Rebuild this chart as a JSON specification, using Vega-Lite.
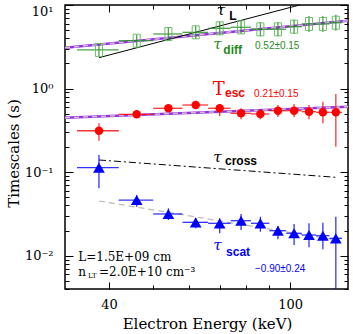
{
  "$schema": "https://vega.github.io/schema/vega-lite/v6.json",
  "width": 283,
  "height": 284,
  "autosize": "none",
  "padding": {"left": 65, "top": 5, "right": 5, "bottom": 45},
  "config": {
    "view": {"stroke": "black", "strokeWidth": 1.5},
    "axis": {"domain": false, "grid": false, "tickColor": "black", "labelColor": "black", "titleColor": "black", "labelOverlap": false, "labelFlush": false, "tickWidth": 1,
      "labelFont": "DejaVu Serif", "labelFontSize": 13, "titleFont": "DejaVu Serif", "titleFontSize": 15, "titleFontWeight": "normal"}
  },
  "datasets": {
    "pts": [
      {"s": "diff", "E": 38, "lo": 34, "hi": 42, "t": 2.90, "tlo": 2.45, "thi": 3.42},
      {"s": "diff", "E": 46, "lo": 42, "hi": 50, "t": 3.74, "tlo": 3.17, "thi": 4.41},
      {"s": "diff", "E": 54, "lo": 50, "hi": 58, "t": 4.50, "tlo": 3.81, "thi": 5.31},
      {"s": "diff", "E": 62, "lo": 58, "hi": 66, "t": 4.71, "tlo": 3.93, "thi": 5.65},
      {"s": "diff", "E": 70, "lo": 66, "hi": 74, "t": 5.26, "tlo": 4.38, "thi": 6.31},
      {"s": "diff", "E": 78, "lo": 74, "hi": 82, "t": 5.41, "tlo": 4.51, "thi": 6.49},
      {"s": "diff", "E": 86, "lo": 82, "hi": 90, "t": 5.12, "tlo": 4.22, "thi": 6.21},
      {"s": "diff", "E": 94, "lo": 90, "hi": 98, "t": 5.12, "tlo": 4.22, "thi": 6.21},
      {"s": "diff", "E": 102, "lo": 98, "hi": 106, "t": 5.50, "tlo": 4.53, "thi": 6.67},
      {"s": "diff", "E": 110, "lo": 106, "hi": 114, "t": 5.93, "tlo": 4.76, "thi": 7.39},
      {"s": "diff", "E": 118, "lo": 114, "hi": 122, "t": 5.93, "tlo": 4.76, "thi": 7.39},
      {"s": "diff", "E": 126, "lo": 122, "hi": 130, "t": 6.14, "tlo": 4.92, "thi": 7.66},
      {"s": "esc", "E": 38, "lo": 34, "hi": 42, "t": 0.313, "tlo": 0.238, "thi": 0.385},
      {"s": "esc", "E": 46, "lo": 42, "hi": 50, "t": 0.492, "tlo": 0.46, "thi": 0.525},
      {"s": "esc", "E": 54, "lo": 50, "hi": 58, "t": 0.581, "tlo": 0.545, "thi": 0.62},
      {"s": "esc", "E": 62, "lo": 58, "hi": 66, "t": 0.636, "tlo": 0.60, "thi": 0.675},
      {"s": "esc", "E": 70, "lo": 66, "hi": 74, "t": 0.581, "tlo": 0.47, "thi": 0.654},
      {"s": "esc", "E": 78, "lo": 74, "hi": 82, "t": 0.506, "tlo": 0.429, "thi": 0.581},
      {"s": "esc", "E": 86, "lo": 82, "hi": 90, "t": 0.497, "tlo": 0.429, "thi": 0.565},
      {"s": "esc", "E": 94, "lo": 90, "hi": 98, "t": 0.544, "tlo": 0.457, "thi": 0.636},
      {"s": "esc", "E": 102, "lo": 98, "hi": 106, "t": 0.544, "tlo": 0.453, "thi": 0.654},
      {"s": "esc", "E": 110, "lo": 106, "hi": 114, "t": 0.529, "tlo": 0.429, "thi": 0.636},
      {"s": "esc", "E": 118, "lo": 114, "hi": 122, "t": 0.520, "tlo": 0.384, "thi": 0.697},
      {"s": "esc", "E": 126, "lo": 122, "hi": 130, "t": 0.520, "tlo": 0.2016, "thi": 0.861},
      {"s": "scat", "E": 38, "lo": 34, "hi": 42, "t": 0.1131, "tlo": 0.0641, "thi": 0.1604},
      {"s": "scat", "E": 46, "lo": 42, "hi": 50, "t": 0.0464, "tlo": 0.0386, "thi": 0.0533},
      {"s": "scat", "E": 54, "lo": 50, "hi": 58, "t": 0.0316, "tlo": 0.0268, "thi": 0.0369},
      {"s": "scat", "E": 62, "lo": 58, "hi": 66, "t": 0.0251, "tlo": 0.0213, "thi": 0.02805},
      {"s": "scat", "E": 70, "lo": 66, "hi": 74, "t": 0.02443, "tlo": 0.01856, "thi": 0.02805},
      {"s": "scat", "E": 78, "lo": 74, "hi": 82, "t": 0.02625, "tlo": 0.0203, "thi": 0.0316},
      {"s": "scat", "E": 86, "lo": 82, "hi": 90, "t": 0.02443, "tlo": 0.0194, "thi": 0.0293},
      {"s": "scat", "E": 94, "lo": 90, "hi": 98, "t": 0.01993, "tlo": 0.01573, "thi": 0.0227},
      {"s": "scat", "E": 102, "lo": 98, "hi": 106, "t": 0.01856, "tlo": 0.01344, "thi": 0.024},
      {"s": "scat", "E": 110, "lo": 106, "hi": 114, "t": 0.0177, "tlo": 0.01262, "thi": 0.02443},
      {"s": "scat", "E": 118, "lo": 114, "hi": 122, "t": 0.01737, "tlo": 0.01194, "thi": 0.02484},
      {"s": "scat", "E": 126, "lo": 122, "hi": 130, "t": 0.01616, "tlo": 0.001, "thi": 0.0293}
    ],
    "lines": [
      {"line": "fit_diff", "E": 32, "t": 3.08},
      {"line": "fit_diff", "E": 134, "t": 6.49},
      {"line": "fit_esc", "E": 32, "t": 0.448},
      {"line": "fit_esc", "E": 134, "t": 0.607},
      {"line": "fit_scat", "E": 38, "t": 0.0452},
      {"line": "fit_scat", "E": 126, "t": 0.01543},
      {"line": "tauL", "E": 38, "t": 2.342},
      {"line": "tauL", "E": 106.9, "t": 10.28},
      {"line": "cross", "E": 38, "t": 0.1398},
      {"line": "cross", "E": 126, "t": 0.0868}
    ],
    "labels": [
      {"k": "tau", "s": "L", "txt": "τ", "E": 69.0, "t": 7.59},
      {"k": "tau", "s": "diff", "txt": "τ", "E": 67.8, "t": 2.951},
      {"k": "tau", "s": "cross", "txt": "τ", "E": 67.8, "t": 0.1334},
      {"k": "tau", "s": "scat", "txt": "τ", "E": 67.8, "t": 0.01172},
      {"k": "sub", "s": "L", "txt": "L", "E": 73.5, "t": 6.615},
      {"k": "sub", "s": "diff", "txt": "diff", "E": 71.3, "t": 2.593},
      {"k": "sub", "s": "esc", "txt": "esc", "E": 71.9, "t": 0.7866},
      {"k": "sub", "s": "cross", "txt": "cross", "E": 71.9, "t": 0.1218},
      {"k": "sub", "s": "scat", "txt": "scat", "E": 72.3, "t": 0.00993},
      {"k": "num", "s": "diff", "txt": "0.52±0.15", "E": 83.7, "t": 2.951},
      {"k": "num", "s": "esc", "txt": "0.21±0.15", "E": 83.3, "t": 0.7996},
      {"k": "num", "s": "scat", "txt": "−0.90±0.24", "E": 83.7, "t": 0.00644},
      {"k": "T", "s": "esc", "txt": "T", "E": 67.6, "t": 0.838},
      {"k": "info", "s": "info", "txt": "L=1.5E+09 cm", "E": 34.22, "t": 0.008535},
      {"k": "info", "s": "info", "txt": "n", "E": 34.22, "t": 0.005722},
      {"k": "info", "s": "info", "txt": "=2.0E+10 cm⁻³", "E": 38.0, "t": 0.005722},
      {"k": "infosub", "s": "info", "txt": "LT", "E": 35.95, "t": 0.00537}
    ]
  },
  "layer": [
    {
      "data": {"name": "lines"},
      "transform": [{"filter": "datum.line == 'fit_diff' || datum.line == 'fit_esc'"}],
      "mark": {"type": "line", "color": "#9a30e0", "strokeWidth": 2.5, "clip": true},
      "encoding": {
        "x": {"field": "E", "type": "quantitative", "scale": {"type": "log", "domain": [32, 134], "nice": false},
          "axis": {"orient": "bottom", "values": [40, 50, 60, 70, 80, 90, 100], "format": "d",
            "labelExpr": "datum.value == 40 || datum.value == 100 ? datum.label : ''",
            "tickSize": {"condition": {"test": "datum.value == 40 || datum.value == 100", "value": -7}, "value": -4},
            "labelPadding": 16, "labelFont": "DejaVu Serif", "labelFontSize": 13,
            "title": "Electron Energy (keV)", "titleFont": "DejaVu Serif", "titleFontSize": 15, "titleFontWeight": "normal",
            "titleX": 142, "titleY": 39, "titleBaseline": "alphabetic", "titleAlign": "center"}},
        "y": {"field": "t", "type": "quantitative", "scale": {"type": "log", "domain": [0.004, 10], "nice": false},
          "axis": {"orient": "left",
            "values": [0.004, 0.005, 0.006, 0.007, 0.008, 0.009, 0.01, 0.02, 0.03, 0.04, 0.05, 0.06, 0.07, 0.08, 0.09, 0.1, 0.2, 0.3, 0.4, 0.5, 0.6, 0.7, 0.8, 0.9, 1, 2, 3, 4, 5, 6, 7, 8, 9, 10],
            "labelExpr": "datum.value == 10 ? '10¹' : datum.value == 1 ? '10⁰' : datum.value == 0.1 ? '10⁻¹' : datum.value == 0.01 ? '10⁻²' : ''",
            "tickSize": {"condition": {"test": "indexof([0.01, 0.1, 1, 10], datum.value) >= 0", "value": -8}, "value": -4},
            "labelBaseline": {"condition": {"test": "datum.value == 10", "value": "top"}, "value": "middle"},
            "labelPadding": 20, "labelFont": "DejaVu Serif", "labelFontSize": 13,
            "title": "Timescales (s)", "titleFont": "DejaVu Serif", "titleFontSize": 15, "titleFontWeight": "normal",
            "titleX": -52, "titleY": 148, "titleAngle": -90, "titleAlign": "center", "titleBaseline": "middle"}},
        "detail": {"field": "line"}
      }
    },
    {
      "data": {"name": "lines"},
      "transform": [{"filter": "datum.line == 'fit_diff' || datum.line == 'fit_esc'"}],
      "mark": {"type": "line", "color": "#c8c0cc", "strokeWidth": 1.5, "strokeDash": [5, 4], "clip": true},
      "encoding": {
        "x": {"field": "E", "type": "quantitative", "scale": {"type": "log", "domain": [32, 134], "nice": false}, "axis": null},
        "y": {"field": "t", "type": "quantitative", "scale": {"type": "log", "domain": [0.004, 10], "nice": false}, "axis": null},
        "detail": {"field": "line"}
      }
    },
    {
      "data": {"name": "lines"},
      "transform": [{"filter": "datum.line == 'fit_scat'"}],
      "mark": {"type": "line", "color": "#bbbbbb", "strokeWidth": 1.2, "strokeDash": [6, 4], "clip": true},
      "encoding": {
        "x": {"field": "E", "type": "quantitative", "axis": null},
        "y": {"field": "t", "type": "quantitative", "axis": null}
      }
    },
    {
      "data": {"name": "lines"},
      "transform": [{"filter": "datum.line == 'tauL'"}],
      "mark": {"type": "line", "color": "black", "strokeWidth": 1, "clip": true},
      "encoding": {
        "x": {"field": "E", "type": "quantitative", "axis": null},
        "y": {"field": "t", "type": "quantitative", "axis": null}
      }
    },
    {
      "data": {"name": "lines"},
      "transform": [{"filter": "datum.line == 'cross'"}],
      "mark": {"type": "line", "color": "black", "strokeWidth": 1, "strokeDash": [7, 3, 2, 3], "clip": true},
      "encoding": {
        "x": {"field": "E", "type": "quantitative", "axis": null},
        "y": {"field": "t", "type": "quantitative", "axis": null}
      }
    },
    {
      "data": {"name": "pts"},
      "mark": {"type": "rule", "strokeWidth": 1.3, "opacity": 0.8, "clip": true},
      "encoding": {
        "x": {"field": "lo", "type": "quantitative", "axis": null},
        "x2": {"field": "hi"},
        "y": {"field": "t", "type": "quantitative", "axis": null},
        "color": {"field": "s", "type": "nominal", "legend": null,
          "scale": {"domain": ["diff", "esc", "scat", "L", "cross", "info"], "range": ["#1f8a1f", "#ff0000", "#0000ff", "#000000", "#000000", "#000000"]}}
      }
    },
    {
      "data": {"name": "pts"},
      "mark": {"type": "rule", "strokeWidth": 1.3, "opacity": 0.8, "clip": true},
      "encoding": {
        "x": {"field": "E", "type": "quantitative", "axis": null},
        "y": {"field": "tlo", "type": "quantitative", "axis": null},
        "y2": {"field": "thi"},
        "color": {"field": "s", "type": "nominal", "legend": null}
      }
    },
    {
      "data": {"name": "pts"},
      "transform": [{"filter": "datum.s == 'diff'"}],
      "mark": {"type": "point", "shape": "M-0.54,-1L0.54,-1L0.54,1L-0.54,1Z", "size": 169, "filled": false, "stroke": "#5cb85c", "strokeWidth": 1, "opacity": 0.9},
      "encoding": {
        "x": {"field": "E", "type": "quantitative", "axis": null},
        "y": {"field": "t", "type": "quantitative", "axis": null}
      }
    },
    {
      "data": {"name": "pts"},
      "transform": [{"filter": "datum.s == 'esc'"}],
      "mark": {"type": "point", "shape": "circle", "size": 72, "filled": true, "color": "#ff0000", "opacity": 1},
      "encoding": {
        "x": {"field": "E", "type": "quantitative", "axis": null},
        "y": {"field": "t", "type": "quantitative", "axis": null}
      }
    },
    {
      "data": {"name": "pts"},
      "transform": [{"filter": "datum.s == 'scat'"}],
      "mark": {"type": "point", "shape": "triangle-up", "size": 137, "filled": true, "color": "#0000ff", "opacity": 1},
      "encoding": {
        "x": {"field": "E", "type": "quantitative", "axis": null},
        "y": {"field": "t", "type": "quantitative", "axis": null}
      }
    },
    {
      "data": {"name": "labels"},
      "transform": [{"filter": "datum.k == 'tau'"}],
      "mark": {"type": "text", "align": "left", "baseline": "alphabetic", "font": "DejaVu Serif", "fontStyle": "italic", "fontSize": 15},
      "encoding": {
        "x": {"field": "E", "type": "quantitative", "axis": null},
        "y": {"field": "t", "type": "quantitative", "axis": null},
        "text": {"field": "txt"},
        "color": {"field": "s", "type": "nominal", "legend": null}
      }
    },
    {
      "data": {"name": "labels"},
      "transform": [{"filter": "datum.k == 'sub'"}],
      "mark": {"type": "text", "align": "left", "baseline": "alphabetic", "font": "Liberation Sans", "fontWeight": "bold", "fontSize": 12},
      "encoding": {
        "x": {"field": "E", "type": "quantitative", "axis": null},
        "y": {"field": "t", "type": "quantitative", "axis": null},
        "text": {"field": "txt"},
        "color": {"field": "s", "type": "nominal", "legend": null}
      }
    },
    {
      "data": {"name": "labels"},
      "transform": [{"filter": "datum.k == 'num'"}],
      "mark": {"type": "text", "align": "left", "baseline": "alphabetic", "font": "Liberation Sans", "fontSize": 10},
      "encoding": {
        "x": {"field": "E", "type": "quantitative", "axis": null},
        "y": {"field": "t", "type": "quantitative", "axis": null},
        "text": {"field": "txt"},
        "color": {"field": "s", "type": "nominal", "legend": null}
      }
    },
    {
      "data": {"name": "labels"},
      "transform": [{"filter": "datum.k == 'T'"}],
      "mark": {"type": "text", "align": "left", "baseline": "alphabetic", "font": "DejaVu Serif", "fontSize": 18},
      "encoding": {
        "x": {"field": "E", "type": "quantitative", "axis": null},
        "y": {"field": "t", "type": "quantitative", "axis": null},
        "text": {"field": "txt"},
        "color": {"field": "s", "type": "nominal", "legend": null}
      }
    },
    {
      "data": {"name": "labels"},
      "transform": [{"filter": "datum.k == 'info'"}],
      "mark": {"type": "text", "align": "left", "baseline": "alphabetic", "font": "DejaVu Serif", "fontSize": 12},
      "encoding": {
        "x": {"field": "E", "type": "quantitative", "axis": null},
        "y": {"field": "t", "type": "quantitative", "axis": null},
        "text": {"field": "txt"},
        "color": {"field": "s", "type": "nominal", "legend": null}
      }
    },
    {
      "data": {"name": "labels"},
      "transform": [{"filter": "datum.k == 'infosub'"}],
      "mark": {"type": "text", "align": "left", "baseline": "alphabetic", "font": "DejaVu Serif", "fontSize": 7},
      "encoding": {
        "x": {"field": "E", "type": "quantitative", "axis": null},
        "y": {"field": "t", "type": "quantitative", "axis": null},
        "text": {"field": "txt"},
        "color": {"field": "s", "type": "nominal", "legend": null}
      }
    },
    {
      "data": {"name": "lines"},
      "mark": {"type": "point", "opacity": 0},
      "encoding": {
        "x": {"field": "E", "type": "quantitative",
          "axis": {"orient": "top", "values": [40, 50, 60, 70, 80, 90, 100], "labels": false, "title": null,
            "tickSize": {"condition": {"test": "datum.value == 40 || datum.value == 100", "value": -7}, "value": -4}}},
        "y": {"field": "t", "type": "quantitative",
          "axis": {"orient": "right", "labels": false, "title": null,
            "values": [0.004, 0.005, 0.006, 0.007, 0.008, 0.009, 0.01, 0.02, 0.03, 0.04, 0.05, 0.06, 0.07, 0.08, 0.09, 0.1, 0.2, 0.3, 0.4, 0.5, 0.6, 0.7, 0.8, 0.9, 1, 2, 3, 4, 5, 6, 7, 8, 9, 10],
            "tickSize": {"condition": {"test": "indexof([0.01, 0.1, 1, 10], datum.value) >= 0", "value": -8}, "value": -4}}}
      }
    }
  ],
  "resolve": {"axis": {"x": "independent", "y": "independent"}}
}
